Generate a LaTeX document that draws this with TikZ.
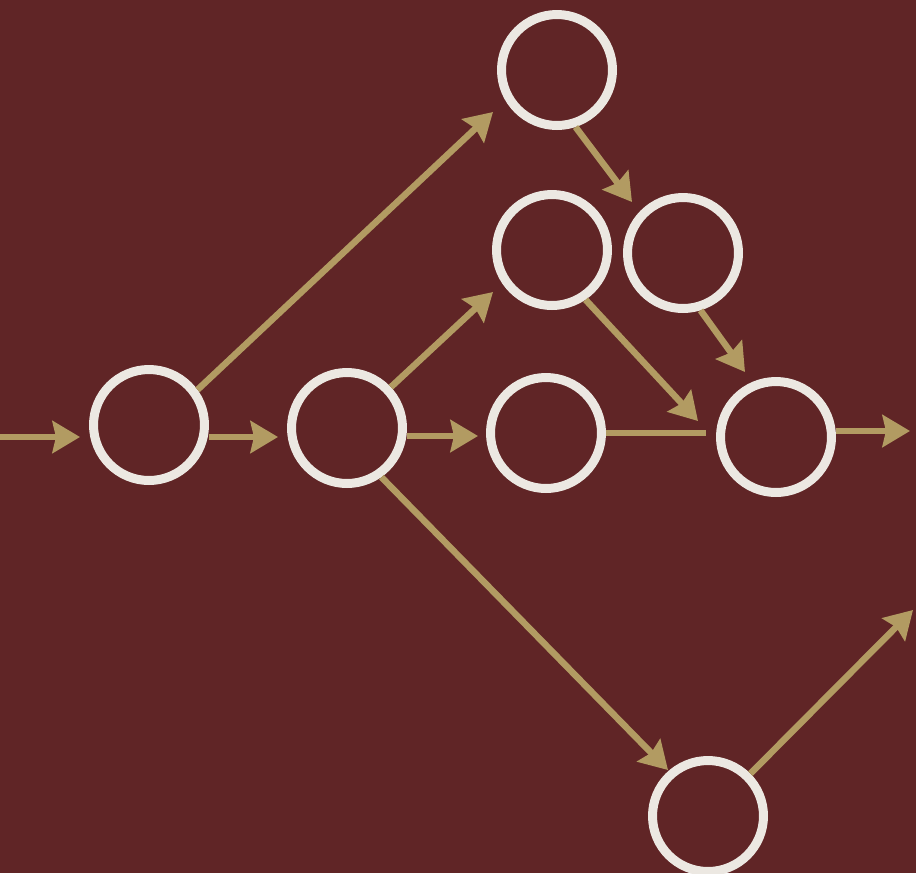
\documentclass[tikz,border=0pt]{standalone}
\usetikzlibrary{arrows.meta}
\definecolor{bgmaroon}{RGB}{96,37,38}
\definecolor{ringwhite}{RGB}{236,232,226}
\definecolor{gold}{RGB}{178,155,98}
\begin{document}
\begin{tikzpicture}[x=0.02cm,y=-0.02cm,
  ring/.style={circle,draw=ringwhite,line width=0.18cm,minimum size=2.22cm,inner sep=0pt},
  arr/.style={draw=gold,line width=0.13cm,-{Stealth[length=0.55cm,width=0.64cm,inset=0.07cm,fill=gold]}},
  link/.style={draw=gold,line width=0.13cm}]
\fill[bgmaroon] (0,0) rectangle (916,873);
\useasboundingbox (0,0) rectangle (916,873);
% nodes
\node[ring] (A) at (149,425) {};
\node[ring] (B) at (347,428) {};
\node[ring] (C) at (546,433) {};
\node[ring] (D) at (776,437) {};
\node[ring] (E) at (557,70) {};
\node[ring] (F) at (552,250) {};
\node[ring] (G) at (683,253) {};
\node[ring] (H) at (708,816) {};
% free ends
\coordinate (in) at (0,437);
\coordinate (tIn) at (80,437);
\coordinate (tA1) at (278,437);
\coordinate (tA2) at (493,112);
\coordinate (tB1) at (478,436);
\coordinate (tB2) at (493,292);
\coordinate (tB3) at (668,770);
\coordinate (tE) at (632,202);
\coordinate (tF) at (698,421);
\coordinate (tG) at (745,372);
\coordinate (tD) at (910,431);
\coordinate (tH) at (913,610);
\coordinate (eC) at (706,433);
% connectors
\draw[arr] (in) -- (tIn);
\draw[arr] (A.east |- tA1) -- (tA1);
\draw[arr] (A.36) -- (tA2);
\draw[arr] (B.east |- tB1) -- (tB1);
\draw[arr] (B.43) -- (tB2);
\draw[arr] (B.-55) -- (tB3);
\draw[link] (C.east |- eC) -- (eC);
\draw[arr] (E.-72) -- (tE);
\draw[arr] (F.-56) -- (tF);
\draw[arr] (G.-73) -- (tG);
\draw[arr] (D.east |- tD) -- (tD);
\draw[arr] (H.45) -- (tH);
\end{tikzpicture}
\end{document}
